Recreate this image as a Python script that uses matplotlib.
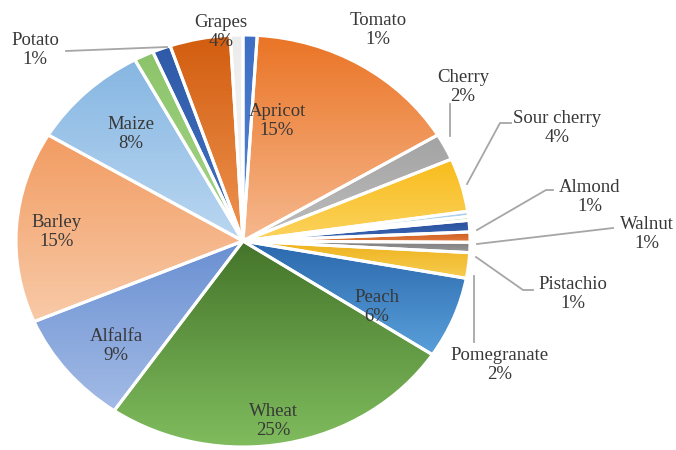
import matplotlib
matplotlib.use('Agg')
import matplotlib.pyplot as plt
import numpy as np
from matplotlib.colors import LinearSegmentedColormap

# crop shares (%), clockwise from 12 o'clock; unnamed ones are tiny unlabeled slices
crops = ['Tomato', 'Apricot', 'Cherry', 'Sour cherry', '', '', 'Almond', 'Walnut',
         'Pistachio', 'Pomegranate', 'Peach', 'Wheat', 'Alfalfa', 'Barley', 'Maize',
         '', 'Potato', 'Grapes', '']
shares = [1.0, 15.4, 2.1, 4.2, 0.4, 0.3, 0.9, 0.8,
          0.8, 2.0, 6.4, 25.3, 9.0, 15.0, 8.5,
          1.4, 1.3, 4.3, 0.9]

# gradient colours per slice: top -> bottom
top_colors = ['#3f6fc4', '#ea7425', '#a3a3a3', '#f8bc1c', '#a9cdea', '#b5dba0', '#284f9c', '#c95a1c',
              '#7d7d7d', '#eeb21c', '#2a68ad', '#44742a', '#6a90d2', '#f29c62', '#86b6e2',
              '#8cc46a', '#2f5aa8', '#d25d0f', '#ececec']
bot_colors = ['#5585d6', '#f6b88e', '#bdbdbd', '#fcd35e', '#c7e0f3', '#cde8bf', '#3d69b8', '#e27a3c',
              '#9a9a9a', '#f7cc4f', '#5aa0da', '#80bd5e', '#a3bbe6', '#f8caa8', '#bad7f1',
              '#a6d58a', '#4473c2', '#ee9452', '#f7f7f7']

# label centres and leader lines, in pixels from the top-left corner
label_pos = {'Tomato': (378, 30), 'Apricot': (277, 121), 'Cherry': (463, 87),
             'Sour cherry': (557, 128), 'Almond': (590, 197), 'Walnut': (647, 234),
             'Pistachio': (573, 294), 'Pomegranate': (500, 365), 'Peach': (377, 307),
             'Wheat': (273, 421), 'Alfalfa': (116, 346), 'Barley': (57, 232),
             'Maize': (131, 134), 'Potato': (35, 50), 'Grapes': (221, 32)}
leaders = [[(450, 104), (450, 136)],
           [(511, 123), (500, 123), (467, 184)],
           [(553, 190), (546, 190), (477, 230)],
           [(613, 228), (477, 244)],
           [(533, 290), (523, 290), (476, 257)],
           [(474, 342), (474, 276)],
           [(66, 51), (167, 47)]]

W, H = 676, 450
cx, cy, rx, ry = 243, 241, 227, 206

fig = plt.figure(figsize=(W / 100, H / 100), dpi=100)
ax = fig.add_axes([0, 0, 1, 1])

wedges, _ = ax.pie(shares, startangle=90, counterclock=False, colors=top_colors,
                   wedgeprops=dict(edgecolor='white', linewidth=2.2))

grad = np.linspace(0, 1, 256).reshape(-1, 1)
for w, c0, c1 in zip(wedges, top_colors, bot_colors):
    ext = w.get_path().get_extents()
    cmap = LinearSegmentedColormap.from_list('g', [c0, c1])
    im = ax.imshow(grad, cmap=cmap, extent=[ext.x0, ext.x1, ext.y0, ext.y1],
                   origin='upper', aspect='auto', zorder=1, interpolation='bilinear')
    im.set_clip_path(w)
    w.set_facecolor('none')
    w.set_zorder(2)

ax.set_aspect('auto')
ax.set_xlim(-cx / rx, (W - cx) / rx)
ax.set_ylim(-(H - cy) / ry, cy / ry)
ax.axis('off')


def px(x, y):
    return x / W, 1 - y / H


for pts in leaders:
    xs, ys = zip(*[px(*p) for p in pts])
    ax.plot(xs, ys, color='#a6a6a6', lw=1.3, transform=ax.transAxes, zorder=3)

for name, s in zip(crops, shares):
    if not name:
        continue
    x, y = px(*label_pos[name])
    ax.text(x, y, f'{name}\n{round(s)}%', transform=ax.transAxes, ha='center', va='center',
            fontsize=13.5, family='Liberation Serif', color='#383838', linespacing=1.1,
            zorder=4)

fig.savefig('out.png', dpi=100)
